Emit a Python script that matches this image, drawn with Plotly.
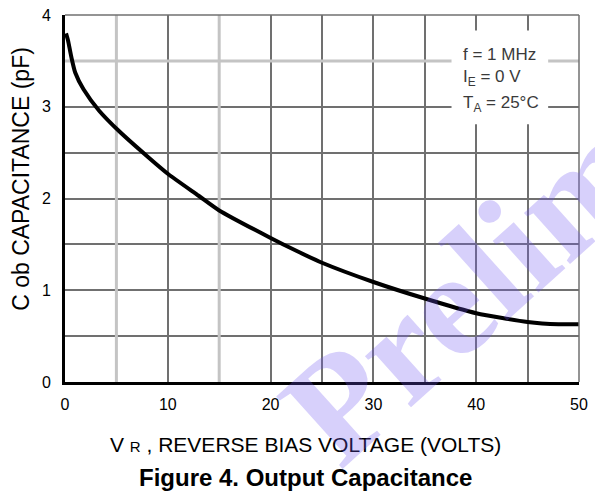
import plotly.graph_objects as go

# Output capacitance vs reverse bias voltage
vr_volts = [0.1, 0.3, 0.6, 1.0, 1.8, 3.3, 5.3, 8.1, 10, 13, 15, 20, 22.5, 25, 30, 35, 40, 45, 48, 50]
cob_pf = [3.80, 3.72, 3.55, 3.37, 3.19, 2.96, 2.73, 2.45, 2.27, 2.03, 1.87, 1.57, 1.43, 1.30,
          1.09, 0.91, 0.75, 0.655, 0.63, 0.63]

x_ticks = [0, 10, 20, 30, 40, 50]
y_ticks = [0, 1, 2, 3, 4]
conditions = ["f = 1 MHz", "I<sub>E</sub> = 0 V", "T<sub>A</sub> = 25°C"]
condition_y = [3.57, 3.31, 3.03]
light_grid_x = [5, 15]
light_grid_y = [3.5]

SANS = "Liberation Sans, Arial, sans-serif"

fig = go.Figure()
fig.add_trace(go.Scatter(
    x=vr_volts, y=cob_pf, mode="lines",
    line=dict(color="black", width=4, shape="spline", smoothing=0.6),
    hoverinfo="skip", showlegend=False,
))

shapes = []
for xv in light_grid_x:
    shapes.append(dict(type="line", xref="x", yref="y", x0=xv, x1=xv, y0=0, y1=4,
                       line=dict(color="#c4c4c4", width=3), layer="between"))
for yv in light_grid_y:
    shapes.append(dict(type="line", xref="x", yref="y", x0=0, x1=50, y0=yv, y1=yv,
                       line=dict(color="#c4c4c4", width=3), layer="between"))
# white panel behind the test-condition text
shapes.append(dict(type="rect", xref="x", yref="y", x0=37.6, x1=47.0, y0=2.81, y1=3.83,
                   fillcolor="white", line=dict(width=0), layer="between"))
# thin frame on top and right
shapes.append(dict(type="line", xref="paper", yref="paper", x0=0, x1=1, y0=1, y1=1,
                   line=dict(color="#707070", width=1.5)))
shapes.append(dict(type="line", xref="paper", yref="paper", x0=1, x1=1, y0=0, y1=1,
                   line=dict(color="#707070", width=1.5)))

annotations = []
for txt, yv in zip(conditions, condition_y):
    annotations.append(dict(x=38.5, y=yv, xref="x", yref="y", text=txt, showarrow=False,
                            xanchor="left", yanchor="middle",
                            font=dict(family=SANS, size=17, color="#3a3a3a")))

annotations += [
    dict(x=0.468, y=-0.171, xref="paper", yref="paper", showarrow=False,
         text='V <span style="font-size:15px">R</span> , REVERSE BIAS VOLTAGE (VOLTS)',
         xanchor="center", yanchor="middle",
         font=dict(family=SANS, size=21, color="black")),
    dict(x=0.468, y=-0.260, xref="paper", yref="paper", showarrow=False,
         text="<b>Figure 4. Output Capacitance</b>",
         xanchor="center", yanchor="middle",
         font=dict(family=SANS, size=24, color="black")),
    dict(x=-0.086, y=0.553, xref="paper", yref="paper", showarrow=False,
         text="C ob CAPACITANCE (pF)", textangle=-90,
         xanchor="center", yanchor="middle",
         font=dict(family=SANS, size=23, color="black")),
    # watermark
    dict(x=1.027, y=0.563, xref="paper", yref="paper", showarrow=False,
         text="<b>Preliminary</b>", textangle=-42,
         xanchor="center", yanchor="middle",
         font=dict(family="Liberation Serif, Times New Roman, serif", size=150,
                   color="rgba(110,85,240,0.28)")),
]

fig.update_layout(
    width=595, height=494,
    margin=dict(l=65, r=7, t=13, b=112),
    paper_bgcolor="white", plot_bgcolor="white",
    font=dict(family=SANS, size=16, color="black"),
    shapes=shapes, annotations=annotations,
)
fig.update_xaxes(
    range=[0, 50], tickvals=x_ticks, ticks="", ticklabelstandoff=6,
    ticklabeloverflow="allow",
    showgrid=True, gridcolor="#707070", gridwidth=1.5,
    minor=dict(dtick=5, showgrid=True, gridcolor="#707070", gridwidth=1.5),
    showline=True, linecolor="black", linewidth=3, zeroline=False,
    tickfont=dict(size=16), fixedrange=True,
)
fig.update_yaxes(
    range=[0, 4], tickvals=y_ticks, ticks="", ticklabelstandoff=8,
    showgrid=True, gridcolor="#707070", gridwidth=1.5,
    minor=dict(dtick=0.5, showgrid=True, gridcolor="#707070", gridwidth=1.5),
    showline=True, linecolor="black", linewidth=3, zeroline=False,
    tickfont=dict(size=16), fixedrange=True,
)

fig.write_html("out.html")
